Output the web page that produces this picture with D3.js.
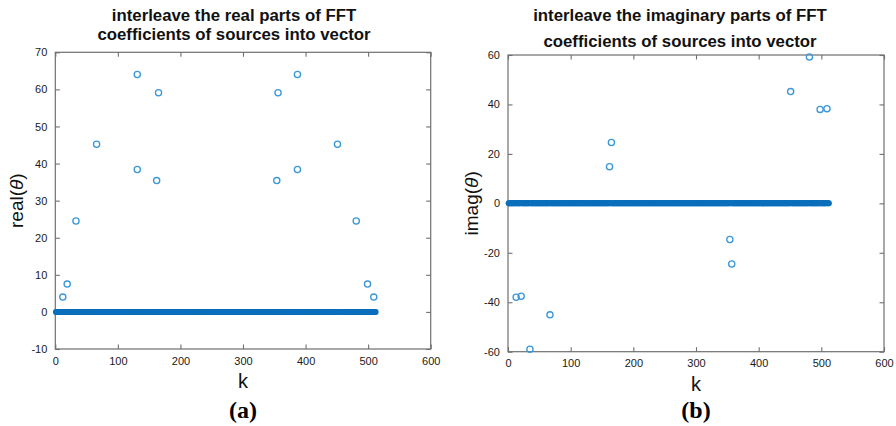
<!DOCTYPE html>
<html>
<head>
<meta charset="utf-8">
<script src="https://cdn.jsdelivr.net/npm/d3@7"></script>
<style>
  body { margin: 0; background: #fff; }
  text { font-family: "Liberation Sans", Arial, sans-serif; }
</style>
</head>
<body>
<div class="svg-container"></div>
<script>

// number of samples in the interleaved vector (all others are zero)
var nSamples = 512;

// real parts, nonzero entries
var realK = [12, 19, 33, 66, 131, 131, 162, 165, 354, 356, 387, 387, 451, 481, 499, 509];
var realV = [4.0, 7.5, 24.5, 45.2, 64.0, 38.4, 35.4, 59.1, 35.4, 59.1, 38.4, 64.0, 45.2, 24.5, 7.5, 4.0];

// imaginary parts, nonzero entries
var imagK = [13, 21, 35, 67, 162, 165, 354, 357, 451, 481, 498, 509];
var imagV = [-38.0, -37.6, -59.0, -45.1, 14.8, 24.6, -14.6, -24.5, 45.2, 59.2, 38.0, 38.3];

// axis ticks
var xTicks = [0, 100, 200, 300, 400, 500, 600];
var realTicks = [-10, 0, 10, 20, 30, 40, 50, 60, 70];
var imagTicks = [-60, -40, -20, 0, 20, 40, 60];

var svg = d3.select(".svg-container").append("svg")
  .attr("width", 896)
  .attr("height", 426);

// plain hyphen for negative numbers, like matlab
var fmt = function (d) { return String(d); };

// draw one panel of the figure
function draw_panel(p) {

  var x = d3.scaleLinear().domain([0, 600]).range([p.left, p.right]);
  var y = d3.scaleLinear().domain(p.yDomain).range([p.bottom, p.top]);

  var g = svg.append("g");
  var tickLen = 4.5;
  var axisColor = "#6f6f6f";

  // box
  g.append("rect")
    .attr("x", p.left).attr("y", p.top)
    .attr("width", p.right - p.left).attr("height", p.bottom - p.top)
    .style("fill", "none").style("stroke", axisColor).style("stroke-width", 1.2);

  // bottom + top axis (ticks point inward)
  g.append("g")
    .attr("transform", "translate(0," + p.bottom + ")")
    .call(d3.axisBottom(x).tickValues(xTicks).tickSize(-tickLen).tickPadding(8).tickFormat(fmt))
    .call(function (a) { a.select(".domain").remove(); });
  g.append("g")
    .attr("transform", "translate(0," + p.top + ")")
    .call(d3.axisTop(x).tickValues(xTicks).tickSize(-tickLen).tickFormat(""))
    .call(function (a) { a.select(".domain").remove(); });

  // left + right axis
  g.append("g")
    .attr("transform", "translate(" + p.left + ",0)")
    .call(d3.axisLeft(y).tickValues(p.yTicks).tickSize(-tickLen).tickPadding(8).tickFormat(fmt))
    .call(function (a) { a.select(".domain").remove(); });
  g.append("g")
    .attr("transform", "translate(" + p.right + ",0)")
    .call(d3.axisRight(y).tickValues(p.yTicks).tickSize(-tickLen).tickFormat(""))
    .call(function (a) { a.select(".domain").remove(); });

  g.selectAll(".tick line").style("stroke", axisColor).style("stroke-width", 1.1);
  g.selectAll(".tick text")
    .style("font-size", "11px")
    .style("fill", "#1a1a1a")
    .style("font-family", "'Liberation Sans', Arial, sans-serif");

  // zero entries, filled dots
  var nonzero = new Set(p.k);
  var zeros = d3.range(1, nSamples + 1).filter(function (k) { return !nonzero.has(k); });
  g.selectAll(".zero")
    .data(zeros)
    .enter().append("circle")
    .attr("class", "zero")
    .attr("cx", function (d) { return x(d); })
    .attr("cy", y(0))
    .attr("r", 3)
    .style("fill", "#0b6fbb");

  // nonzero entries, open circles
  g.selectAll(".nz")
    .data(p.k)
    .enter().append("circle")
    .attr("class", "nz")
    .attr("cx", function (d) { return x(d); })
    .attr("cy", function (d, i) { return y(p.v[i]); })
    .attr("r", 3.1)
    .style("fill", "none")
    .style("stroke", "#3a97d8")
    .style("stroke-width", 1.3);

  // title
  g.selectAll(".title")
    .data(p.title)
    .enter().append("text")
    .attr("x", p.titleX)
    .attr("y", function (d, i) { return p.titleY[i]; })
    .style("text-anchor", "middle")
    .style("font-size", "16.8px")
    .style("font-weight", "bold")
    .style("fill", "#111")
    .text(function (d) { return d; });

  // x label
  g.append("text")
    .attr("x", (p.left + p.right) / 2)
    .attr("y", p.bottom + 39)
    .style("text-anchor", "middle")
    .style("font-size", "20px")
    .style("fill", "#111")
    .text("k");

  // y label
  var yl = g.append("text")
    .attr("transform", "translate(" + p.yLabelX + "," + ((p.top + p.bottom) / 2) + ") rotate(-90)")
    .style("text-anchor", "middle")
    .style("font-size", "19px")
    .style("fill", "#111");
  yl.append("tspan").text(p.yLabel + "(");
  yl.append("tspan").style("font-style", "italic").text("\u03b8");
  yl.append("tspan").text(")");

  // caption
  g.append("text")
    .attr("x", (p.left + p.right) / 2)
    .attr("y", 418)
    .style("text-anchor", "middle")
    .style("font-family", "'Liberation Serif', 'Times New Roman', serif")
    .style("font-size", "24px")
    .style("font-weight", "bold")
    .style("fill", "#000")
    .text(p.caption);
}

draw_panel({
  left: 55.3, right: 430.7, top: 52.3, bottom: 349,
  yDomain: [-10, 70], yTicks: realTicks,
  k: realK, v: realV,
  title: ["interleave the real parts of FFT", "coefficients of sources into vector"],
  titleX: 234, titleY: [20.5, 40],
  yLabel: "real", yLabelX: 23,
  caption: "(a)"
});

draw_panel({
  left: 508, right: 884, top: 55, bottom: 351.7,
  yDomain: [-60, 60], yTicks: imagTicks,
  k: imagK, v: imagV,
  title: ["interleave the imaginary parts of FFT", "coefficients of sources into vector"],
  titleX: 680, titleY: [20.5, 46.5],
  yLabel: "imag", yLabelX: 478,
  caption: "(b)"
});

</script>
</body>
</html>
